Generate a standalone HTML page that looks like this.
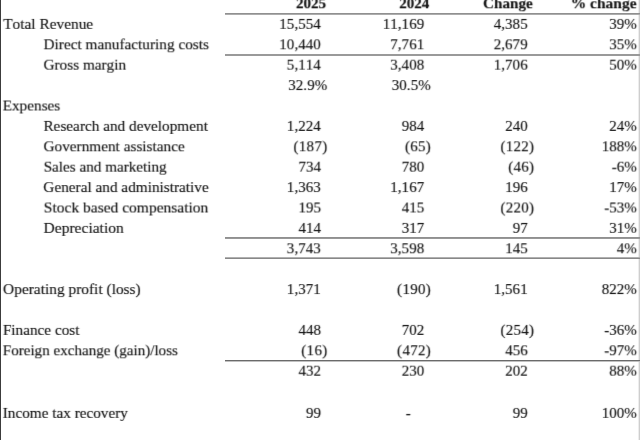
<!DOCTYPE html>
<html lang="en"><head><meta charset="utf-8"><title>Financial summary</title>
<style>
html,body{margin:0;padding:0;background:#fff;}
body{width:640px;height:440px;overflow:hidden;position:relative;font-family:"Liberation Serif",serif;font-size:15.0px;color:#141414;-webkit-text-stroke:0.15px #141414;font-kerning:none;font-variant-ligatures:none;}
.row{position:absolute;left:0;width:640px;height:24px;}
.t{position:absolute;top:0;white-space:pre;line-height:20px;height:20px;}
.l{left:0;transform-origin:0 50%;}
.r{right:0;text-align:right;transform-origin:100% 50%;}
.b{font-weight:bold;}
.ps{letter-spacing:0.3px;}
.cs{letter-spacing:0.06px;}
.hl{position:absolute;left:225px;width:415px;height:1px;}
.vl{position:absolute;top:0;left:0;width:1px;height:440px;background:#3c3c3c;}
.vr{position:absolute;top:0;left:638px;width:1px;height:440px;background:#ededed;}
.vr2{position:absolute;top:0;left:639px;width:1px;height:440px;background:#cecece;}
</style></head><body>
<svg width="0" height="0" style="position:absolute" aria-hidden="true"><defs>

<filter id="s0" x="0" y="0" width="100%" height="100%" color-interpolation-filters="sRGB"><feConvolveMatrix order="3 2" kernelMatrix="0.1200 0.7600 0.1200 0.0000 0.0000 0.0000" targetX="1" targetY="1" edgeMode="none" preserveAlpha="false"/></filter>
<filter id="s1" x="0" y="0" width="100%" height="100%" color-interpolation-filters="sRGB"><feConvolveMatrix order="3 2" kernelMatrix="0.1080 0.6840 0.1080 0.0120 0.0760 0.0120" targetX="1" targetY="1" edgeMode="none" preserveAlpha="false"/></filter>
<filter id="s2" x="0" y="0" width="100%" height="100%" color-interpolation-filters="sRGB"><feConvolveMatrix order="3 2" kernelMatrix="0.0960 0.6080 0.0960 0.0240 0.1520 0.0240" targetX="1" targetY="1" edgeMode="none" preserveAlpha="false"/></filter>
<filter id="s3" x="0" y="0" width="100%" height="100%" color-interpolation-filters="sRGB"><feConvolveMatrix order="3 2" kernelMatrix="0.0840 0.5320 0.0840 0.0360 0.2280 0.0360" targetX="1" targetY="1" edgeMode="none" preserveAlpha="false"/></filter>
<filter id="s4" x="0" y="0" width="100%" height="100%" color-interpolation-filters="sRGB"><feConvolveMatrix order="3 2" kernelMatrix="0.0720 0.4560 0.0720 0.0480 0.3040 0.0480" targetX="1" targetY="1" edgeMode="none" preserveAlpha="false"/></filter>
<filter id="s5" x="0" y="0" width="100%" height="100%" color-interpolation-filters="sRGB"><feConvolveMatrix order="3 2" kernelMatrix="0.0600 0.3800 0.0600 0.0600 0.3800 0.0600" targetX="1" targetY="1" edgeMode="none" preserveAlpha="false"/></filter>
<filter id="s6" x="0" y="0" width="100%" height="100%" color-interpolation-filters="sRGB"><feConvolveMatrix order="3 2" kernelMatrix="0.0480 0.3040 0.0480 0.0720 0.4560 0.0720" targetX="1" targetY="1" edgeMode="none" preserveAlpha="false"/></filter>
<filter id="s7" x="0" y="0" width="100%" height="100%" color-interpolation-filters="sRGB"><feConvolveMatrix order="3 2" kernelMatrix="0.0360 0.2280 0.0360 0.0840 0.5320 0.0840" targetX="1" targetY="1" edgeMode="none" preserveAlpha="false"/></filter>
<filter id="s8" x="0" y="0" width="100%" height="100%" color-interpolation-filters="sRGB"><feConvolveMatrix order="3 2" kernelMatrix="0.0240 0.1520 0.0240 0.0960 0.6080 0.0960" targetX="1" targetY="1" edgeMode="none" preserveAlpha="false"/></filter>
<filter id="s9" x="0" y="0" width="100%" height="100%" color-interpolation-filters="sRGB"><feConvolveMatrix order="3 2" kernelMatrix="0.0120 0.0760 0.0120 0.1080 0.6840 0.1080" targetX="1" targetY="1" edgeMode="none" preserveAlpha="false"/></filter>
</defs></svg>
<div class="vl"></div><div class="vr"></div><div class="vr2"></div>
<div class="row" style="top:-7px;filter:url(#s3);">
<div class="t r b" style="transform:translateX(-313.80px) scaleX(1.0101)">2025</div>
<div class="t r b" style="transform:translateX(-210.69px) scaleX(1.0042)">2024</div>
<div class="t r b" style="transform:translateX(-107.49px) scaleX(1.0093)">Change</div>
<div class="t r b" style="transform:translateX(-3.23px) scaleX(1.0320)">% change</div>
</div>
<div class="row" style="top:13px;filter:url(#s9);">
<div class="t l" style="transform:translateX(3.24px) scaleX(1.0232)">Total Revenue</div>
<div class="t r cs" style="transform:translateX(-319.10px) scaleX(1.0000)">15,554</div>
<div class="t r cs" style="transform:translateX(-215.70px) scaleX(1.0000)">11,169</div>
<div class="t r cs" style="transform:translateX(-112.30px) scaleX(1.0000)">4,385</div>
<div class="t r" style="transform:translateX(-3.25px) scaleX(1.0000)">39%</div>
</div>
<div class="row" style="top:34px;filter:url(#s3);">
<div class="t l" style="transform:translateX(43.52px) scaleX(1.0187)">Direct manufacturing costs</div>
<div class="t r cs" style="transform:translateX(-319.10px) scaleX(1.0000)">10,440</div>
<div class="t r cs" style="transform:translateX(-215.70px) scaleX(1.0000)">7,761</div>
<div class="t r cs" style="transform:translateX(-112.30px) scaleX(1.0000)">2,679</div>
<div class="t r" style="transform:translateX(-3.25px) scaleX(1.0000)">35%</div>
</div>
<div class="row" style="top:54px;filter:url(#s7);">
<div class="t l" style="transform:translateX(43.47px) scaleX(1.0173)">Gross margin</div>
<div class="t r cs" style="transform:translateX(-319.10px) scaleX(1.0000)">5,114</div>
<div class="t r cs" style="transform:translateX(-215.70px) scaleX(1.0000)">3,408</div>
<div class="t r cs" style="transform:translateX(-112.30px) scaleX(1.0000)">1,706</div>
<div class="t r" style="transform:translateX(-3.25px) scaleX(1.0000)">50%</div>
</div>
<div class="row" style="top:75px;filter:url(#s1);">
<div class="t r cs" style="transform:translateX(-312.70px) scaleX(1.0000)">32.9%</div>
<div class="t r cs" style="transform:translateX(-209.20px) scaleX(1.0000)">30.5%</div>
</div>
<div class="row" style="top:95px;filter:url(#s5);">
<div class="t l" style="transform:translateX(2.68px) scaleX(1.0166)">Expenses</div>
</div>
<div class="row" style="top:115px;filter:url(#s9);">
<div class="t l" style="transform:translateX(43.44px) scaleX(1.0176)">Research and development</div>
<div class="t r cs" style="transform:translateX(-319.10px) scaleX(1.0000)">1,224</div>
<div class="t r" style="transform:translateX(-215.70px) scaleX(1.0000)">984</div>
<div class="t r" style="transform:translateX(-112.30px) scaleX(1.0000)">240</div>
<div class="t r" style="transform:translateX(-3.25px) scaleX(1.0000)">24%</div>
</div>
<div class="row" style="top:136px;filter:url(#s3);">
<div class="t l" style="transform:translateX(43.47px) scaleX(1.0187)">Government assistance</div>
<div class="t r ps" style="transform:translateX(-312.50px) scaleX(1.0000)">(187)</div>
<div class="t r ps" style="transform:translateX(-208.90px) scaleX(1.0000)">(65)</div>
<div class="t r ps" style="transform:translateX(-105.60px) scaleX(1.0000)">(122)</div>
<div class="t r" style="transform:translateX(-3.25px) scaleX(1.0000)">188%</div>
</div>
<div class="row" style="top:156px;filter:url(#s7);">
<div class="t l" style="transform:translateX(43.63px) scaleX(1.0115)">Sales and marketing</div>
<div class="t r" style="transform:translateX(-319.10px) scaleX(1.0000)">734</div>
<div class="t r" style="transform:translateX(-215.70px) scaleX(1.0000)">780</div>
<div class="t r ps" style="transform:translateX(-105.60px) scaleX(1.0000)">(46)</div>
<div class="t r" style="transform:translateX(-3.25px) scaleX(1.0000)">-6%</div>
</div>
<div class="row" style="top:177px;filter:url(#s1);">
<div class="t l" style="transform:translateX(43.35px) scaleX(1.0182)">General and administrative</div>
<div class="t r cs" style="transform:translateX(-319.10px) scaleX(1.0000)">1,363</div>
<div class="t r cs" style="transform:translateX(-215.70px) scaleX(1.0000)">1,167</div>
<div class="t r" style="transform:translateX(-112.30px) scaleX(1.0000)">196</div>
<div class="t r" style="transform:translateX(-3.25px) scaleX(1.0000)">17%</div>
</div>
<div class="row" style="top:197px;filter:url(#s5);">
<div class="t l" style="transform:translateX(43.82px) scaleX(1.0338)">Stock based compensation</div>
<div class="t r" style="transform:translateX(-319.10px) scaleX(1.0000)">195</div>
<div class="t r" style="transform:translateX(-215.70px) scaleX(1.0000)">415</div>
<div class="t r ps" style="transform:translateX(-105.60px) scaleX(1.0000)">(220)</div>
<div class="t r" style="transform:translateX(-3.25px) scaleX(1.0000)">-53%</div>
</div>
<div class="row" style="top:217px;filter:url(#s9);">
<div class="t l" style="transform:translateX(43.52px) scaleX(1.0361)">Depreciation</div>
<div class="t r" style="transform:translateX(-319.10px) scaleX(1.0000)">414</div>
<div class="t r" style="transform:translateX(-215.70px) scaleX(1.0000)">317</div>
<div class="t r" style="transform:translateX(-112.30px) scaleX(1.0000)">97</div>
<div class="t r" style="transform:translateX(-3.25px) scaleX(1.0000)">31%</div>
</div>
<div class="row" style="top:238px;filter:url(#s3);">
<div class="t r cs" style="transform:translateX(-319.10px) scaleX(1.0000)">3,743</div>
<div class="t r cs" style="transform:translateX(-215.70px) scaleX(1.0000)">3,598</div>
<div class="t r" style="transform:translateX(-112.30px) scaleX(1.0000)">145</div>
<div class="t r" style="transform:translateX(-3.25px) scaleX(1.0000)">4%</div>
</div>
<div class="row" style="top:279px;filter:url(#s1);">
<div class="t l" style="transform:translateX(3.09px) scaleX(1.0261)">Operating profit (loss)</div>
<div class="t r cs" style="transform:translateX(-319.10px) scaleX(1.0000)">1,371</div>
<div class="t r ps" style="transform:translateX(-208.90px) scaleX(1.0000)">(190)</div>
<div class="t r cs" style="transform:translateX(-112.30px) scaleX(1.0000)">1,561</div>
<div class="t r" style="transform:translateX(-3.25px) scaleX(1.0000)">822%</div>
</div>
<div class="row" style="top:319px;filter:url(#s9);">
<div class="t l" style="transform:translateX(2.88px) scaleX(1.0152)">Finance cost</div>
<div class="t r" style="transform:translateX(-319.10px) scaleX(1.0000)">448</div>
<div class="t r" style="transform:translateX(-215.70px) scaleX(1.0000)">702</div>
<div class="t r ps" style="transform:translateX(-105.60px) scaleX(1.0000)">(254)</div>
<div class="t r" style="transform:translateX(-3.25px) scaleX(1.0000)">-36%</div>
</div>
<div class="row" style="top:340px;filter:url(#s3);">
<div class="t l" style="transform:translateX(2.77px) scaleX(1.0058)">Foreign exchange (gain)/loss</div>
<div class="t r ps" style="transform:translateX(-312.50px) scaleX(1.0000)">(16)</div>
<div class="t r ps" style="transform:translateX(-208.90px) scaleX(1.0000)">(472)</div>
<div class="t r" style="transform:translateX(-112.30px) scaleX(1.0000)">456</div>
<div class="t r" style="transform:translateX(-3.25px) scaleX(1.0000)">-97%</div>
</div>
<div class="row" style="top:360px;filter:url(#s7);">
<div class="t r" style="transform:translateX(-319.10px) scaleX(1.0000)">432</div>
<div class="t r" style="transform:translateX(-215.70px) scaleX(1.0000)">230</div>
<div class="t r" style="transform:translateX(-112.30px) scaleX(1.0000)">202</div>
<div class="t r" style="transform:translateX(-3.25px) scaleX(1.0000)">88%</div>
</div>
<div class="row" style="top:402px;filter:url(#s9);">
<div class="t l" style="transform:translateX(2.77px) scaleX(1.0154)">Income tax recovery</div>
<div class="t r" style="transform:translateX(-319.10px) scaleX(1.0000)">99</div>
<div class="t r" style="transform:translateX(-229.25px) scaleX(1.0000)">-</div>
<div class="t r" style="transform:translateX(-112.30px) scaleX(1.0000)">99</div>
<div class="t r" style="transform:translateX(-3.25px) scaleX(1.0000)">100%</div>
</div>
<div class="hl" style="top:13px;background:rgb(144,144,144)"></div>
<div class="hl" style="top:14px;background:rgb(172,172,172)"></div>
<div class="hl" style="top:54px;background:rgb(154,154,154)"></div>
<div class="hl" style="top:55px;background:rgb(154,154,154)"></div>
<div class="hl" style="top:237px;background:rgb(144,144,144)"></div>
<div class="hl" style="top:238px;background:rgb(152,152,152)"></div>
<div class="hl" style="top:257px;background:rgb(176,176,176)"></div>
<div class="hl" style="top:258px;background:rgb(136,136,136)"></div>
<div class="hl" style="top:360px;background:rgb(106,106,106)"></div>
<div class="hl" style="top:361px;background:rgb(192,192,192)"></div>
</body></html>
